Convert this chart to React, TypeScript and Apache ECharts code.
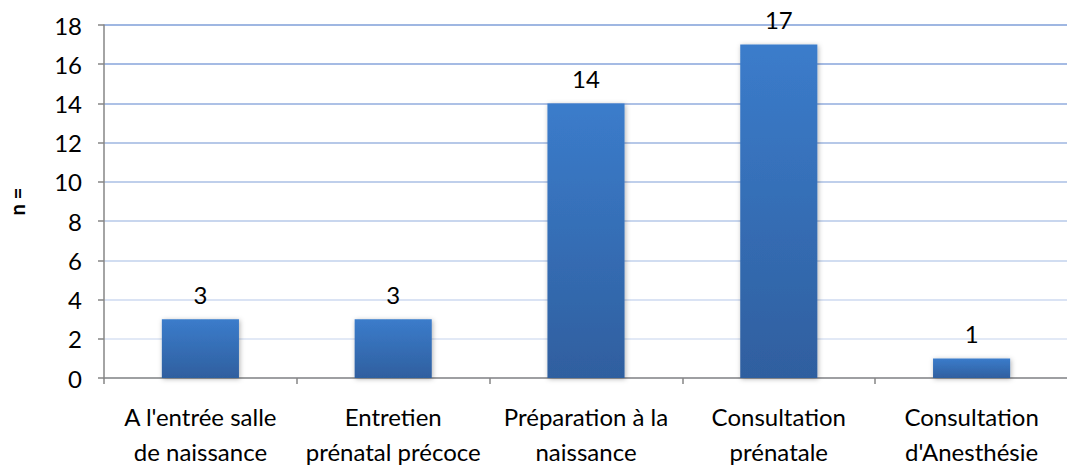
import React, { useEffect, useRef } from "react";
import * as echarts from "echarts";

const categories = [
  "A l'entrée salle\nde naissance",
  "Entretien\nprénatal précoce",
  "Préparation à la\nnaissance",
  "Consultation\nprénatale",
  "Consultation\nd'Anesthésie",
];
const values = [3, 3, 14, 17, 1];
const yAxisName = "n =";
const gridLineColors = [
  "#e6ecf7", "#e2e9f6", "#dae3f4", "#d1ddf1", "#c8d6ee",
  "#bfcfeb", "#b6c8e8", "#adc1e6", "#a5bbe4", "#9fb7e2",
];

export default function App() {
  const ref = useRef<HTMLDivElement>(null);
  useEffect(() => {
    document.body.style.margin = "0";
    const chart = echarts.init(ref.current!, null, { renderer: "svg" });
    const font = "Lato, 'Open Sans', sans-serif";
    chart.setOption({
      animation: false,
      grid: { left: 104, right: -1, top: 25, bottom: 88, containLabel: false, outerBoundsMode: "none" },
      xAxis: {
        type: "category",
        data: categories,
        axisLine: { lineStyle: { color: "#868686", width: 1.5 } },
        axisTick: { show: true, length: 6, lineStyle: { color: "#868686", width: 1.5 } },
        axisLabel: {
          color: "#000",
          fontFamily: font,
          fontSize: 24,
          lineHeight: 35,
          margin: 21,
          interval: 0,
        },
      },
      yAxis: {
        type: "value",
        min: 0,
        max: 18,
        interval: 2,
        name: yAxisName,
        nameLocation: "middle",
        nameGap: 77,
        nameRotate: 90,
        nameTextStyle: { color: "#000", fontFamily: font, fontSize: 20, fontWeight: "bold" },
        axisLine: { show: true, lineStyle: { color: "#868686", width: 1.5 } },
        axisTick: { show: true, length: 6, lineStyle: { color: "#868686", width: 1.5 } },
        axisLabel: { color: "#000", fontFamily: font, fontSize: 24, margin: 22 },
        splitLine: { show: true, lineStyle: { color: gridLineColors, width: 2 } },
      },
      series: [
        {
          type: "bar",
          data: values,
          barWidth: "40%",
          itemStyle: {
            color: new echarts.graphic.LinearGradient(0, 0, 0, 1, [
              { offset: 0, color: "#3b7ccb" },
              { offset: 1, color: "#2f5f9f" },
            ]),
            shadowColor: "rgba(0,0,0,0.3)",
            shadowBlur: 5,
            shadowOffsetX: 1,
            shadowOffsetY: 1,
          },
          label: {
            show: true,
            position: "top",
            distance: 13,
            color: "#000",
            fontFamily: font,
            fontSize: 24,
          },
        },
      ],
    });
    return () => chart.dispose();
  }, []);
  return <div ref={ref} style={{ width: 1067, height: 466 }} />;
}
